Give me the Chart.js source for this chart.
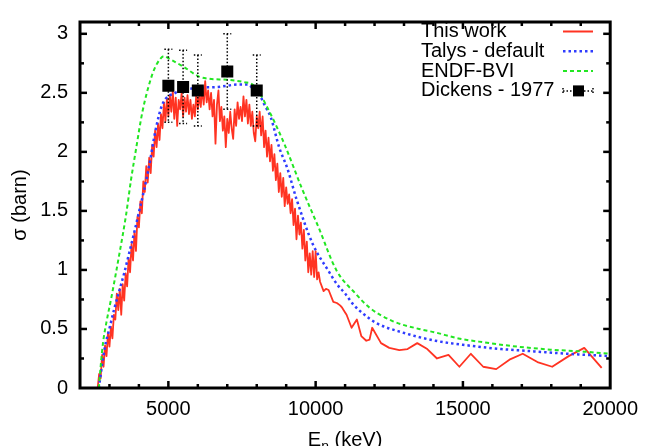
<!DOCTYPE html>
<html>
<head>
<meta charset="utf-8">
<script src="https://cdn.jsdelivr.net/npm/chart.js@4/dist/chart.umd.min.js"></script>
<style>
  html, body { margin: 0; padding: 0; background: #fff; }
</style>
</head>
<body>
<canvas id="chart" width="649" height="446"></canvas>
<script>
// This work (measured), energy in keV, cross section in barn
const redE = [
  2600, 2650, 2700, 2750, 2800, 2850, 2900, 2950, 3000, 3050,
  3100, 3150, 3200, 3250, 3300, 3350, 3400, 3450, 3500, 3550,
  3600, 3650, 3700, 3750, 3800, 3850, 3900, 3950, 4000, 4050,
  4100, 4150, 4200, 4250, 4300, 4350, 4400, 4450, 4500, 4550,
  4600, 4650, 4700, 4750, 4800, 4850, 4900, 4950, 5000, 5050,
  5100, 5150, 5200, 5250, 5300, 5350, 5400, 5450, 5500, 5550,
  5600, 5650, 5700, 5750, 5800, 5850, 5900, 5950, 6000, 6050,
  6100, 6150, 6200, 6250, 6300, 6350, 6400, 6450, 6500, 6550,
  6600, 6650, 6700, 6750, 6800, 6850, 6900, 6950, 7000, 7050,
  7100, 7150, 7200, 7250, 7300, 7350, 7400, 7450, 7500, 7550,
  7600, 7650, 7700, 7750, 7800, 7850, 7900, 7950, 8000, 8050,
  8100, 8150, 8200, 8250, 8300, 8350, 8400, 8450, 8500, 8550,
  8600, 8650, 8700, 8750, 8800, 8850, 8900, 8950, 9000, 9050,
  9100, 9150, 9200, 9250, 9300, 9350, 9400, 9450, 9500, 9550,
  9600, 9650, 9700, 9750, 9800, 9850, 9900, 9950, 10000, 10050,
  10100, 10150, 10270, 10350, 10440, 10600, 10720, 10830, 10900, 11000,
  11050, 11220, 11400, 11550, 11720, 11830, 11920, 12220, 12500, 12840,
  13120, 13450, 13790, 14120, 14510, 14880, 15270, 15690, 16130, 16580,
  17030, 17530, 18030, 18590, 19120, 19710
]
const redS = [
  0.00, 0.12, 0.08, 0.28, 0.18, 0.36, 0.27, 0.47, 0.35, 0.52,
  0.42, 0.62, 0.58, 0.80, 0.66, 0.84, 0.62, 0.88, 0.74, 0.97,
  0.86, 1.10, 0.98, 1.22, 1.08, 1.32, 1.16, 1.45, 1.36, 1.58,
  1.48, 1.75, 1.66, 1.88, 1.74, 1.95, 1.82, 2.06, 1.96, 2.18,
  2.04, 2.24, 2.10, 2.32, 2.20, 2.42, 2.26, 2.45, 2.30, 2.48,
  2.34, 2.52, 2.28, 2.46, 2.22, 2.44, 2.36, 2.50, 2.30, 2.46,
  2.34, 2.48, 2.32, 2.44, 2.28, 2.40, 2.30, 2.50, 2.36, 2.48,
  2.38, 2.55, 2.40, 2.60, 2.42, 2.52, 2.36, 2.50, 2.30, 2.44,
  2.07, 2.40, 2.52, 2.26, 2.38, 2.18, 2.30, 2.04, 2.28, 2.16,
  2.34, 2.20, 2.11, 2.36, 2.22, 2.42, 2.28, 2.38, 2.26, 2.47,
  2.30, 2.44, 2.24, 2.40, 2.22, 2.34, 2.16, 2.09, 2.30, 2.20,
  2.34, 2.14, 2.30, 2.04, 2.18, 1.96, 2.12, 1.92, 2.06, 1.84,
  1.98, 1.76, 1.90, 1.66, 1.82, 1.62, 1.78, 1.54, 1.70, 1.56,
  1.64, 1.48, 1.60, 1.38, 1.52, 1.26, 1.46, 1.30, 1.40, 1.18,
  1.34, 1.08, 1.24, 0.98, 1.14, 0.96, 1.16, 0.94, 1.16, 0.92,
  0.98, 0.90, 0.82, 0.84, 0.83, 0.73, 0.72, 0.70, 0.68, 0.64,
  0.62, 0.51, 0.58, 0.44, 0.40, 0.41, 0.51, 0.38, 0.34, 0.32,
  0.33, 0.38, 0.33, 0.25, 0.28, 0.18, 0.29, 0.18, 0.16, 0.24,
  0.29, 0.22, 0.18, 0.27, 0.34, 0.17
]

// Talys - default
const talysE = [2640, 2840, 3005, 3173, 3341, 3508, 3676, 3844, 4011, 4179, 4346, 4570, 4793, 5240, 5911, 6693, 7364, 7700, 7923, 8145, 8260, 8480, 8760, 9040, 9350, 9900, 10440, 10720, 11000, 11270, 11660, 12060, 12950, 14070, 15190, 16300, 17420, 18540, 20000]
const talysS = [0.00, 0.34, 0.51, 0.68, 0.83, 0.98, 1.15, 1.32, 1.50, 1.68, 1.88, 2.19, 2.40, 2.50, 2.54, 2.55, 2.57, 2.57, 2.52, 2.46, 2.40, 2.29, 2.04, 1.86, 1.60, 1.22, 0.99, 0.88, 0.80, 0.71, 0.62, 0.55, 0.47, 0.40, 0.36, 0.33, 0.31, 0.29, 0.27]

// ENDF-BVI
const endfE = [2640, 2700, 2780, 2900, 3060, 3340, 3560, 3730, 3900, 4120, 4460, 4700, 4850, 5020, 5520, 6020, 6360, 7030, 7590, 7860, 8140, 8310, 8590, 8950, 9550, 10100, 10700, 11390, 11830, 12610, 13510, 14070, 14850, 15740, 16860, 17980, 19100, 20000]
const endfS = [0.00, 0.18, 0.38, 0.56, 0.76, 1.14, 1.46, 1.76, 2.02, 2.34, 2.66, 2.78, 2.81, 2.79, 2.72, 2.64, 2.62, 2.61, 2.59, 2.57, 2.48, 2.40, 2.26, 2.06, 1.68, 1.36, 1.00, 0.79, 0.68, 0.567, 0.50, 0.47, 0.42, 0.386, 0.35, 0.325, 0.308, 0.29]

// Dickens - 1977
const dickensE = [5000, 5500, 6000, 7000, 8000]
const dickensS = [2.56, 2.55, 2.52, 2.68, 2.52]
const dickensErr = [0.31, 0.31, 0.30, 0.32, 0.30]

const xTickLabels = [5000, 10000, 15000, 20000]
const yTickLabels = [0, 0.5, 1, 1.5, 2, 2.5, 3]

const FONT = '"Liberation Sans", Arial, Helvetica, sans-serif'
const RED = '#ff3322'
const BLUE = '#2f3cff'
const GREEN = '#22e622'

const toXY = (xs, ys) => xs.map((v, i) => ({ x: v, y: ys[i] }))
const isLabel = (list, v) => list.some(l => Math.abs(l - v) < 1e-6)

const line = (ctx, x1, y1, x2, y2) => {
  ctx.beginPath()
  ctx.moveTo(x1, y1)
  ctx.lineTo(x2, y2)
  ctx.stroke()
}

const framePlugin = {
  id: 'frame',
  // error bars go under the squares
  beforeDatasetDraw(chart, args) {
    if (args.index !== 0) return
    const { ctx, scales: { x, y } } = chart
    ctx.save()
    ctx.strokeStyle = '#000'
    ctx.lineWidth = 1.5
    ctx.setLineDash([1.5, 2])
    dickensE.forEach((e, i) => {
      const px = x.getPixelForValue(e)
      const top = y.getPixelForValue(dickensS[i] + dickensErr[i])
      const bot = y.getPixelForValue(dickensS[i] - dickensErr[i])
      line(ctx, px, top, px, bot)
      line(ctx, px - 4, top, px + 4, top)
      line(ctx, px - 4, bot, px + 4, bot)
    })
    ctx.restore()
  },
  afterDraw(chart) {
    const { ctx, chartArea: { left, right, top, bottom }, scales: { x, y } } = chart
    ctx.save()
    ctx.strokeStyle = '#000'
    ctx.lineWidth = 2.5

    // inward ticks, mirrored on top and right
    x.ticks.forEach(t => {
      if (t.value <= x.min || t.value >= x.max) return
      const px = x.getPixelForValue(t.value)
      const len = isLabel(xTickLabels, t.value) ? 7 : 4
      line(ctx, px, bottom, px, bottom - len)
      line(ctx, px, top, px, top + len)
    })
    y.ticks.forEach(t => {
      if (t.value <= y.min || t.value >= y.max) return
      const py = y.getPixelForValue(t.value)
      const len = isLabel(yTickLabels, t.value) ? 7 : 4
      line(ctx, left, py, left + len, py)
      line(ctx, right, py, right - len, py)
    })

    ctx.lineWidth = 3
    ctx.strokeRect(left, top, right - left, bottom - top)

    // x axis title with subscript
    ctx.fillStyle = '#000'
    ctx.textBaseline = 'alphabetic'
    ctx.font = '20px ' + FONT
    const wE = ctx.measureText('E').width
    const wRest = ctx.measureText(' (keV)').width
    ctx.font = '14px ' + FONT
    const wN = ctx.measureText('n').width
    let tx = (left + right) / 2 - (wE + wN + wRest) / 2
    const base = 446
    ctx.font = '20px ' + FONT
    ctx.fillText('E', tx, base)
    tx += wE
    ctx.font = '14px ' + FONT
    ctx.fillText('n', tx, base + 5)
    tx += wN
    ctx.font = '20px ' + FONT
    ctx.fillText(' (keV)', tx, base)

    // key
    const keyX = 421
    const sampleL = 563
    const sampleR = 593
    const rows = [
      { text: 'This work', kind: 'red' },
      { text: 'Talys - default', kind: 'blue' },
      { text: 'ENDF-BVI', kind: 'green' },
      { text: 'Dickens - 1977', kind: 'dickens' }
    ]
    ctx.textBaseline = 'middle'
    ctx.textAlign = 'left'
    rows.forEach((r, i) => {
      const ry = 31.5 + i * 19.8
      ctx.fillStyle = '#000'
      ctx.fillText(r.text, keyX, ry)
      ctx.save()
      if (r.kind === 'red') {
        ctx.strokeStyle = RED
        ctx.lineWidth = 2
        line(ctx, sampleL, ry, sampleR, ry)
      } else if (r.kind === 'blue') {
        ctx.strokeStyle = BLUE
        ctx.lineWidth = 2.5
        ctx.setLineDash([2.5, 3])
        line(ctx, sampleL, ry, sampleR, ry)
      } else if (r.kind === 'green') {
        ctx.strokeStyle = GREEN
        ctx.lineWidth = 2
        ctx.setLineDash([4, 3])
        line(ctx, sampleL, ry, sampleR, ry)
      } else {
        ctx.strokeStyle = '#000'
        ctx.lineWidth = 1.5
        ctx.setLineDash([1.5, 2])
        line(ctx, sampleL, ry, sampleR, ry)
        line(ctx, sampleL, ry - 3, sampleL, ry + 3)
        line(ctx, sampleR, ry - 3, sampleR, ry + 3)
        ctx.fillStyle = '#000'
        ctx.fillRect(573, ry - 5.5, 11, 11)
      }
      ctx.restore()
    })
    ctx.restore()
  }
}

const ctx = document.getElementById('chart').getContext('2d')

new Chart(ctx, {
  type: 'scatter',
  data: {
    datasets: [
      {
        label: 'Dickens - 1977',
        data: toXY(dickensE, dickensS),
        pointStyle: 'rect',
        pointRadius: 8.5,
        pointBorderWidth: 0,
        backgroundColor: '#000',
        borderColor: '#000',
        showLine: false
      },
      {
        label: 'ENDF-BVI',
        data: toXY(endfE, endfS),
        showLine: true,
        pointRadius: 0,
        borderColor: GREEN,
        borderWidth: 2,
        borderDash: [4, 3],
        cubicInterpolationMode: 'monotone'
      },
      {
        label: 'Talys - default',
        data: toXY(talysE, talysS),
        showLine: true,
        pointRadius: 0,
        borderColor: BLUE,
        borderWidth: 2.5,
        borderDash: [2.5, 3],
        cubicInterpolationMode: 'monotone'
      },
      {
        label: 'This work',
        data: toXY(redE, redS),
        showLine: true,
        pointRadius: 0,
        borderColor: RED,
        borderWidth: 1.8,
        borderJoinStyle: 'round',
        tension: 0
      }
    ]
  },
  options: {
    responsive: false,
    animation: false,
    layout: { padding: { left: 0, top: 16, right: 33, bottom: 0 } },
    plugins: {
      legend: { display: false },
      tooltip: { enabled: false }
    },
    scales: {
      x: {
        type: 'linear',
        min: 2000,
        max: 20000,
        grid: { display: false, drawTicks: false },
        border: { display: false },
        ticks: {
          stepSize: 1000,
          autoSkip: false,
          maxRotation: 0,
          padding: 11,
          color: '#000',
          font: { family: FONT, size: 20, lineHeight: 1 },
          callback: v => isLabel(xTickLabels, v) ? String(v) : ''
        },
        afterFit: s => { s.height = 58 }
      },
      y: {
        type: 'linear',
        min: 0,
        max: 3.1,
        grid: { display: false, drawTicks: false },
        border: { display: false },
        ticks: {
          stepSize: 0.25,
          includeBounds: false,
          autoSkip: false,
          padding: 12,
          color: '#000',
          font: { family: FONT, size: 20, lineHeight: 1 },
          callback: v => isLabel(yTickLabels, v) ? String(v) : ''
        },
        title: {
          display: true,
          text: 'σ (barn)',
          color: '#000',
          font: { family: FONT, size: 20, lineHeight: 1.2 },
          padding: { top: 8, bottom: 0 }
        },
        afterFit: s => { s.width = 80 }
      }
    }
  },
  plugins: [framePlugin]
})
</script>
</body>
</html>
